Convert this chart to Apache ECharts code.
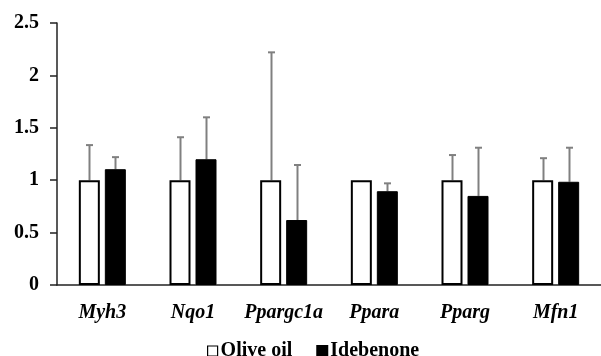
<!DOCTYPE html>
<html>
<head>
<meta charset="utf-8">
<script src="https://cdn.jsdelivr.net/npm/echarts@6/dist/echarts.min.js"></script>
<style>html,body{margin:0;padding:0;background:#fff}#c{width:601px;height:356px}</style>
</head>
<body>
<div id="c"></div>
<script>
var categories = ['Myh3', 'Nqo1', 'Ppargc1a', 'Ppara', 'Pparg', 'Mfn1'];
var oliveOil = [1, 1, 1, 1, 1, 1];
var oliveOilErr = [0.335, 0.41, 1.22, 0.0, 0.24, 0.21];
var idebenone = [1.105, 1.2, 0.62, 0.895, 0.85, 0.985];
var idebenoneErr = [0.115, 0.4, 0.525, 0.075, 0.46, 0.325];
var yTicks = [0, 0.5, 1, 1.5, 2, 2.5];

var BAR_W = 21, BAR_GAP = 5;
var fontFam = '"Liberation Serif", "Times New Roman", serif';

function errSeries(vals, errs, side) {
  return {
    type: 'custom',
    silent: true,
    z: 1,
    data: vals.map(function (v, i) { return [i, v, v + errs[i]]; }),
    renderItem: function (params, api) {
      var x = api.value(0);
      var p0 = api.coord([x, api.value(1)]);
      var p1 = api.coord([x, api.value(2)]);
      var off = side * (BAR_W + BAR_GAP) / 2;
      var cx = Math.round(p0[0] + off) + 0.5;
      if (Math.abs(p1[1] - p0[1]) < 1) return null;
      var style = { stroke: '#808080', lineWidth: 2, fill: null };
      return {
        type: 'group',
        children: [
          { type: 'line', shape: { x1: cx, y1: p0[1], x2: cx, y2: p1[1] }, style: style },
          { type: 'line', shape: { x1: cx - 3.5, y1: p1[1], x2: cx + 3.5, y2: p1[1] }, style: style }
        ]
      };
    }
  };
}

var chart = echarts.init(document.getElementById('c'));
chart.setOption({
  animation: false,
  backgroundColor: '#fff',
  grid: { left: 57, top: 23, width: 546, bottom: 71, containLabel: false },
  legend: {
    top: 336,
    left: 202,
    itemWidth: 10,
    itemHeight: 10,
    itemGap: 24,
    textStyle: { fontFamily: fontFam, fontWeight: 'bold', fontSize: 20, color: '#000', padding: [0, 0, 0, -2] },
    data: [
      { name: 'Olive oil', icon: 'rect', itemStyle: { color: '#fff', borderColor: '#000', borderWidth: 1.2 } },
      { name: 'Idebenone', icon: 'rect', itemStyle: { color: '#000' } }
    ]
  },
  xAxis: {
    type: 'category',
    data: categories,
    axisLine: { lineStyle: { color: '#222', width: 1.5 } },
    axisTick: { show: false },
    axisLabel: { interval: 0, margin: 18, fontFamily: fontFam, fontWeight: 'bold', fontStyle: 'italic', fontSize: 20, color: '#000' }
  },
  yAxis: {
    type: 'value',
    min: 0, max: 2.5, interval: 0.5,
    axisLine: { show: true, lineStyle: { color: '#222', width: 1.5 } },
    axisTick: { show: true, length: 7, lineStyle: { color: '#222', width: 1.5 } },
    splitLine: { show: false },
    axisLabel: {
      margin: 18, fontFamily: fontFam, fontWeight: 'bold', fontSize: 20, color: '#000',
      formatter: function (v) { return yTicks.indexOf(v) >= 0 ? String(v) : ''; }
    }
  },
  series: [
    {
      name: 'Olive oil', type: 'bar', data: oliveOil, barWidth: BAR_W, barGap: (BAR_GAP / BAR_W * 100) + '%',
      z: 2,
      itemStyle: { color: '#fff', borderColor: '#000', borderWidth: 2 }
    },
    {
      name: 'Idebenone', type: 'bar', data: idebenone, barWidth: BAR_W,
      z: 2,
      itemStyle: { color: '#000', borderColor: '#000', borderWidth: 1 }
    },
    errSeries(oliveOil, oliveOilErr, -1),
    errSeries(idebenone, idebenoneErr, 1)
  ]
});
</script>
</body>
</html>
